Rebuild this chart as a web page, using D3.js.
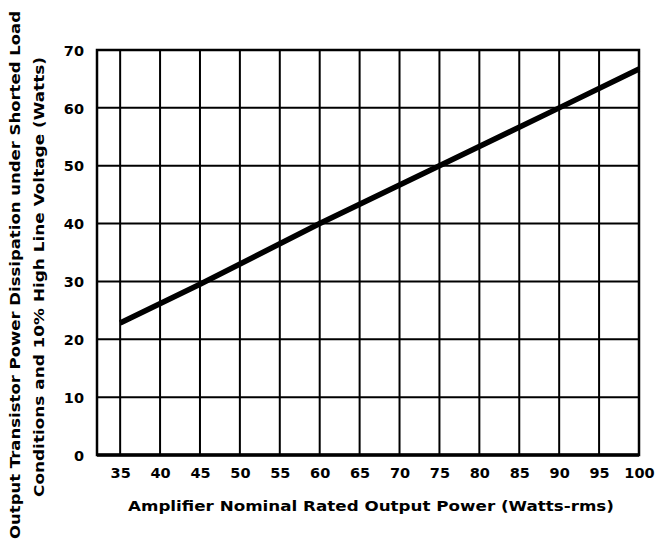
<!DOCTYPE html>
<html><head><meta charset="utf-8">
<script src="https://cdn.jsdelivr.net/npm/d3@7"></script>
<style>
body{margin:0;background:#fff;}
text{font-family:"DejaVu Sans",Arial,sans-serif;font-weight:bold;fill:#000;}
</style></head>
<body>
<svg id="c" width="660" height="544"></svg>
<script>
const xTicks = [35,40,45,50,55,60,65,70,75,80,85,90,95,100];
const yTicks = [0,10,20,30,40,50,60,70];
const powerRated = [35,45,60,75,90,100];
const dissipation = [22.8,29.5,40,50,60,66.7];
const xTitle = "Amplifier Nominal Rated Output Power (Watts-rms)";
const yTitle1 = "Output Transistor Power Dissipation under Shorted Load";
const yTitle2 = "Conditions and 10% High Line Voltage (Watts)";

const svg = d3.select("#c");
const L=97,R=639,T=50,B=455;
const x = d3.scaleLinear().domain([32.1,100]).range([L,R]);
const y = d3.scaleLinear().domain([0,70]).range([B,T]);
const FF = '"DejaVu Sans",Arial,sans-serif';

const g = svg.append("g");
g.selectAll("line.vg").data(xTicks).join("line")
  .attr("x1",d=>x(d)).attr("x2",d=>x(d)).attr("y1",T).attr("y2",B)
  .attr("stroke","#000").attr("stroke-width",2);
g.selectAll("line.hg").data(yTicks).join("line")
  .attr("x1",L).attr("x2",R).attr("y1",d=>y(d)).attr("y2",d=>y(d))
  .attr("stroke","#000").attr("stroke-width",2);
g.append("rect").attr("x",L).attr("y",T).attr("width",R-L).attr("height",B-T)
  .attr("fill","none").attr("stroke","#000").attr("stroke-width",2.5);
g.append("line").attr("x1",L).attr("x2",R).attr("y1",B).attr("y2",B)
  .attr("stroke","#000").attr("stroke-width",3.5);

const xAxis = d3.axisBottom(x).tickValues(xTicks).tickSize(0).tickPadding(0).tickFormat(d3.format("d"));
const xa = svg.append("g").attr("transform",`translate(0,${B+12})`).call(xAxis);
xa.select(".domain").remove();
xa.selectAll("text").attr("font-size",14.5).attr("dy","0.75em").style("font-family",FF).style("font-weight","bold").attr("fill","#000");

const yAxis = d3.axisLeft(y).tickValues(yTicks).tickSize(0).tickPadding(0).tickFormat(d3.format("d"));
const ya = svg.append("g").attr("transform",`translate(${L-13},0)`).call(yAxis);
ya.select(".domain").remove();
ya.selectAll("text").attr("font-size",14.5).attr("dy","0.36em").style("font-family",FF).style("font-weight","bold").attr("fill","#000");

const line = d3.line().x((d,i)=>x(powerRated[i])).y(d=>y(d));
svg.append("path").datum(dissipation).attr("d",line)
  .attr("fill","none").attr("stroke","#000").attr("stroke-width",5.5);

svg.append("text").attr("x",371).attr("y",511).attr("text-anchor","middle")
  .attr("font-size",13.5).attr("textLength",486).attr("lengthAdjust","spacingAndGlyphs").text(xTitle);
svg.append("text").attr("transform","translate(20,275) rotate(-90)").attr("text-anchor","middle")
  .attr("font-size",13.5).attr("textLength",528).attr("lengthAdjust","spacingAndGlyphs").text(yTitle1);
svg.append("text").attr("transform","translate(44,277) rotate(-90)").attr("text-anchor","middle")
  .attr("font-size",13.5).attr("textLength",440).attr("lengthAdjust","spacingAndGlyphs").text(yTitle2);
</script>
</body></html>
